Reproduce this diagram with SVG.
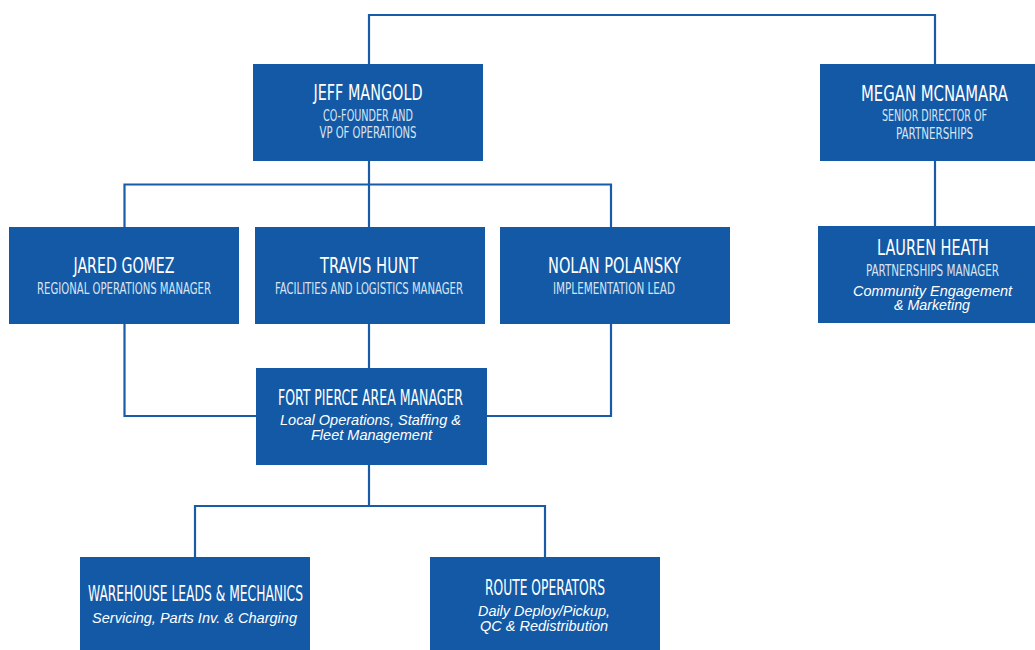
<svg xmlns="http://www.w3.org/2000/svg" width="1035" height="650" viewBox="0 0 1035 650">
<style>
.box{fill:#1359a5}
.ln{fill:none;stroke:#1a5ba7;stroke-width:2.2}
.nm{font-family:"Liberation Sans Narrow","DejaVu Sans Condensed","Liberation Sans",sans-serif;font-size:22px;fill:#ffffff;text-anchor:middle}
.sb{font-family:"Liberation Sans Narrow","DejaVu Sans Condensed","Liberation Sans",sans-serif;font-size:15.5px;fill:#d9e4f2;text-anchor:middle}
.it{font-family:"Liberation Sans",Arial,sans-serif;font-size:14px;font-style:italic;fill:#ffffff;text-anchor:middle}
</style>
<rect width="1035" height="650" fill="#ffffff"/>
<g id="connectors">
<path class="ln" d="M369 64 V15 H935 V64"/>
<path class="ln" d="M935 161 V226"/>
<path class="ln" d="M369 161 V227"/>
<path class="ln" d="M124.5 227 V184.5 H611 V227"/>
<path class="ln" d="M124.5 324 V416 H256"/>
<path class="ln" d="M611 324 V416 H487"/>
<path class="ln" d="M369 324 V368"/>
<path class="ln" d="M369 465 V506 H545 V557"/>
<path class="ln" d="M195 557 V506 H369"/>
</g>
<g id="jeff">
<rect class="box" x="253" y="64" width="230" height="97"/>
<text class="nm" x="368" y="100" textLength="109" lengthAdjust="spacingAndGlyphs">JEFF MANGOLD</text>
<text class="sb" x="368" y="121" textLength="90" lengthAdjust="spacingAndGlyphs">CO-FOUNDER AND</text>
<text class="sb" x="368" y="138" textLength="97" lengthAdjust="spacingAndGlyphs">VP OF OPERATIONS</text>
</g>
<g id="megan">
<rect class="box" x="820" y="64" width="215" height="97"/>
<text class="nm" x="934.5" y="101" textLength="147" lengthAdjust="spacingAndGlyphs">MEGAN MCNAMARA</text>
<text class="sb" x="934.5" y="121" textLength="105" lengthAdjust="spacingAndGlyphs">SENIOR DIRECTOR OF</text>
<text class="sb" x="934.5" y="139" textLength="77" lengthAdjust="spacingAndGlyphs">PARTNERSHIPS</text>
</g>
<g id="jared">
<rect class="box" x="9" y="227" width="230" height="97"/>
<text class="nm" x="124" y="273" textLength="101" lengthAdjust="spacingAndGlyphs">JARED GOMEZ</text>
<text class="sb" x="124" y="294" textLength="174" lengthAdjust="spacingAndGlyphs">REGIONAL OPERATIONS MANAGER</text>
</g>
<g id="travis">
<rect class="box" x="255" y="227" width="230" height="97"/>
<text class="nm" x="369" y="273" textLength="98" lengthAdjust="spacingAndGlyphs">TRAVIS HUNT</text>
<text class="sb" x="369" y="294" textLength="188" lengthAdjust="spacingAndGlyphs">FACILITIES AND LOGISTICS MANAGER</text>
</g>
<g id="nolan">
<rect class="box" x="500" y="227" width="230" height="97"/>
<text class="nm" x="614.5" y="273" textLength="133" lengthAdjust="spacingAndGlyphs">NOLAN POLANSKY</text>
<text class="sb" x="614" y="294" textLength="122" lengthAdjust="spacingAndGlyphs">IMPLEMENTATION LEAD</text>
</g>
<g id="lauren">
<rect class="box" x="818" y="226" width="217" height="97"/>
<text class="nm" x="933" y="255" textLength="112" lengthAdjust="spacingAndGlyphs">LAUREN HEATH</text>
<text class="sb" x="932.5" y="276" textLength="133" lengthAdjust="spacingAndGlyphs">PARTNERSHIPS MANAGER</text>
<text class="it" x="932.5" y="296" textLength="159" lengthAdjust="spacingAndGlyphs">Community Engagement</text>
<text class="it" x="932" y="310" textLength="76" lengthAdjust="spacingAndGlyphs">&amp; Marketing</text>
</g>
<g id="fortpierce">
<rect class="box" x="256" y="368" width="231" height="97"/>
<text class="nm" x="370.5" y="405" textLength="185" lengthAdjust="spacingAndGlyphs">FORT PIERCE AREA MANAGER</text>
<text class="it" x="370.5" y="425" textLength="181" lengthAdjust="spacingAndGlyphs">Local Operations, Staffing &amp;</text>
<text class="it" x="371.5" y="440" textLength="121" lengthAdjust="spacingAndGlyphs">Fleet Management</text>
</g>
<g id="warehouse">
<rect class="box" x="80" y="557" width="230" height="93"/>
<text class="nm" x="195.5" y="601" textLength="215" lengthAdjust="spacingAndGlyphs">WAREHOUSE LEADS &amp; MECHANICS</text>
<text class="it" x="194.5" y="623" textLength="205" lengthAdjust="spacingAndGlyphs">Servicing, Parts Inv. &amp; Charging</text>
</g>
<g id="route">
<rect class="box" x="430" y="557" width="230" height="93"/>
<text class="nm" x="545" y="595" textLength="120" lengthAdjust="spacingAndGlyphs">ROUTE OPERATORS</text>
<text class="it" x="544" y="616" textLength="132" lengthAdjust="spacingAndGlyphs">Daily Deploy/Pickup,</text>
<text class="it" x="544" y="631" textLength="128" lengthAdjust="spacingAndGlyphs">QC &amp; Redistribution</text>
</g>
</svg>
